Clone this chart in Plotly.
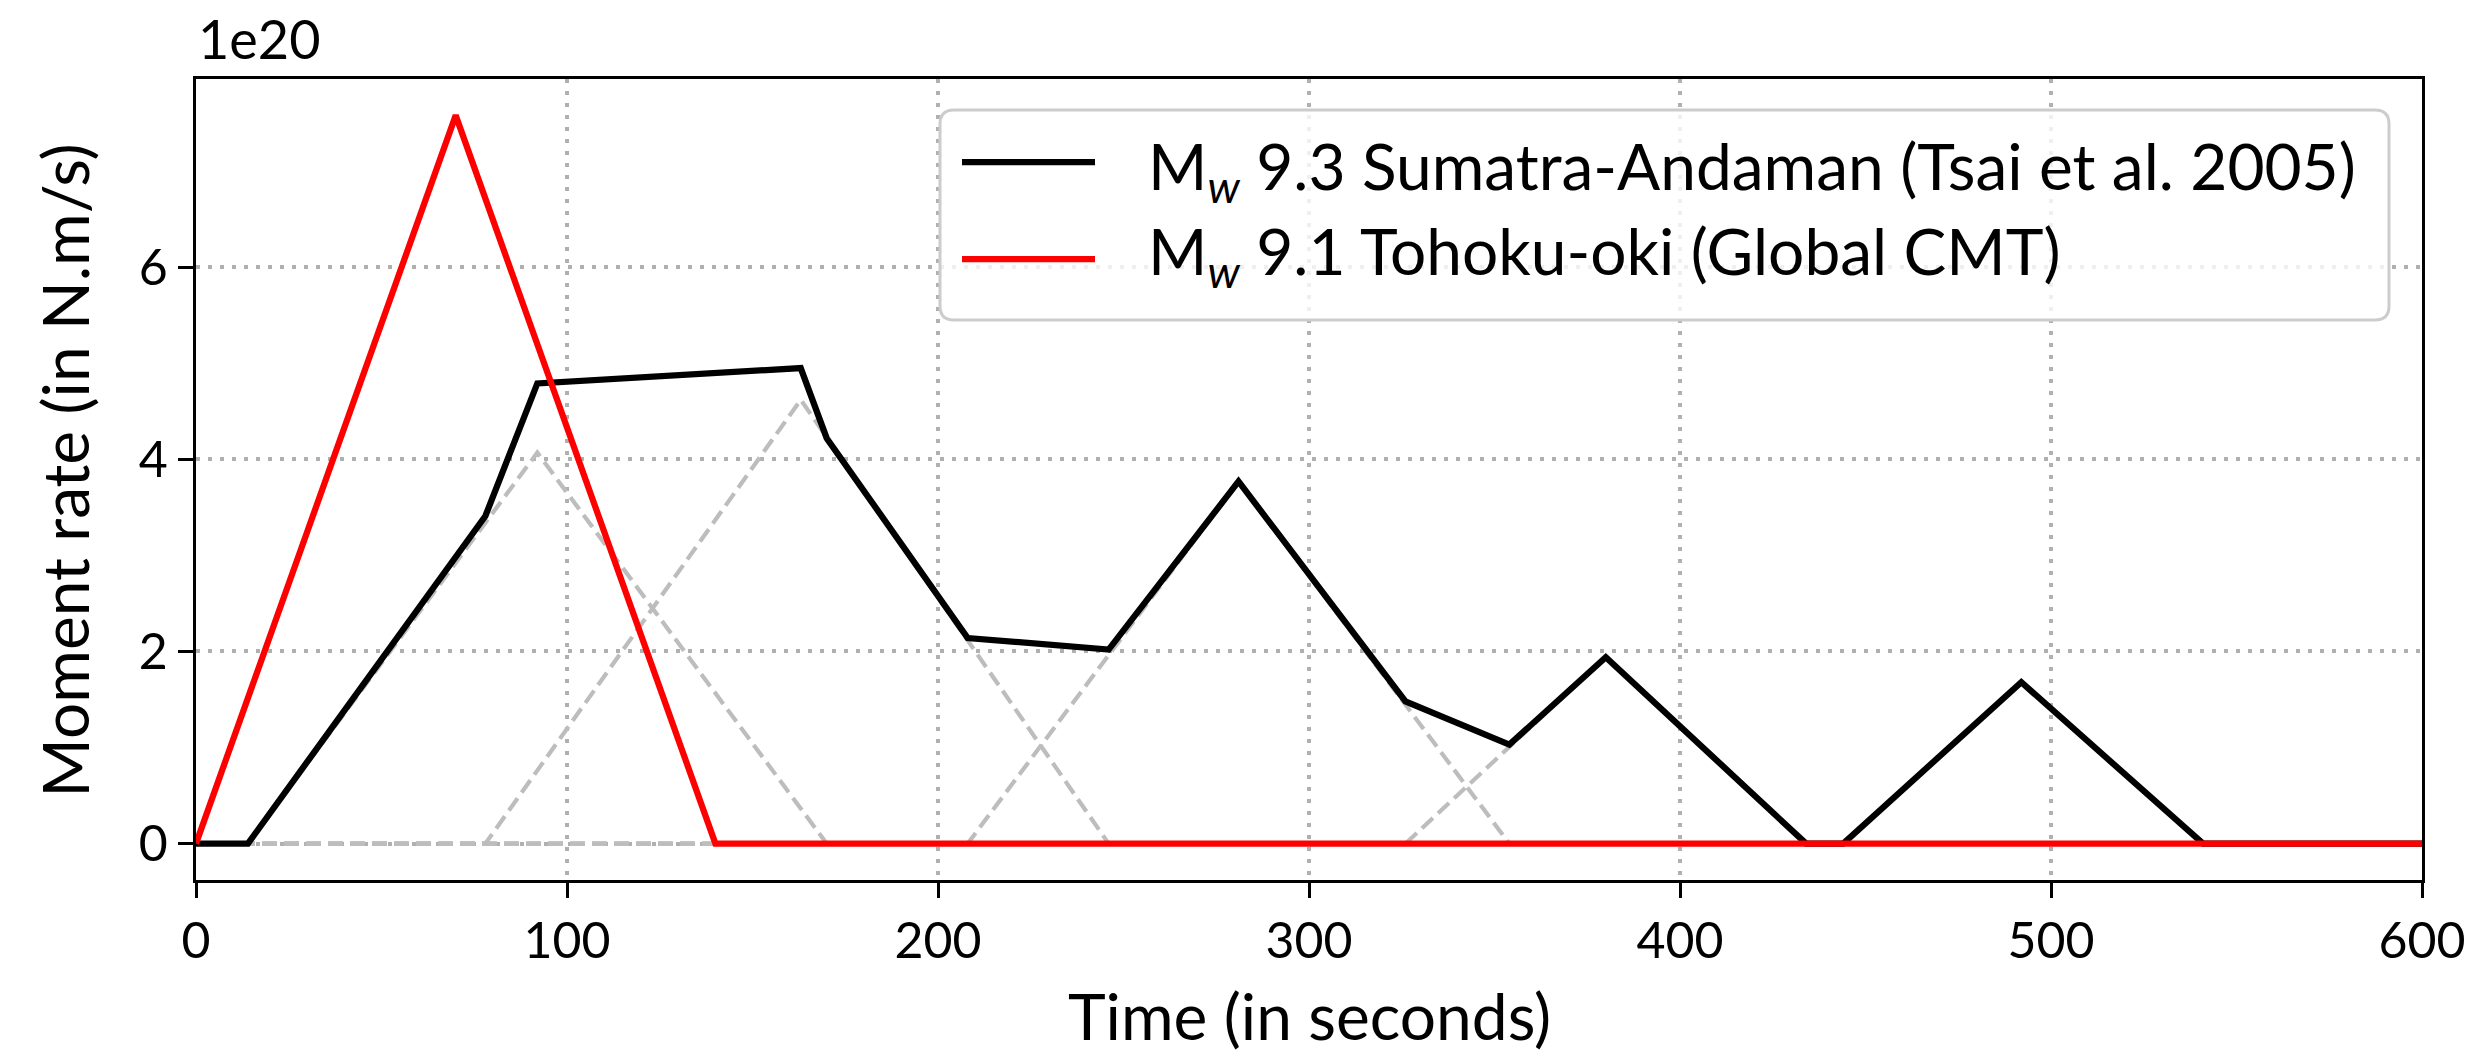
import plotly.graph_objects as go

# ---------------- data (moment rate in units of 1e20 N.m/s) ----------------
t_sumatra = [0, 14, 78, 92, 163, 170, 208, 246, 281, 326, 354, 380, 434, 444, 492, 541, 600]
m_sumatra = [0, 0, 3.41, 4.79, 4.95, 4.22, 2.14, 2.02, 3.77, 1.48, 1.03, 1.94, 0, 0, 1.68, 0, 0]

t_tohoku = [0, 70, 140, 600]
m_tohoku = [0, 7.58, 0, 0]

# individual sub-events of the Sumatra-Andaman source (dashed grey triangles)
sub_start = [14, 78, 208, 326, 444]
sub_peak_t = [92, 163, 281, 380, 492]
sub_peak = [4.07, 4.62, 3.77, 1.94, 1.68]
sub_end = [170, 246, 354, 434, 541]

x_ticks = [0, 100, 200, 300, 400, 500, 600]
y_ticks = [0, 2, 4, 6]

label_sumatra = "M<sub><i>w</i></sub> 9.3 Sumatra-Andaman (Tsai et al. 2005)"
label_tohoku = "M<sub><i>w</i></sub> 9.1 Tohoku-oki (Global CMT)"

# ---------------- figure ----------------
W, H = 2475, 1057
L, R, T, B = 196, 53, 79, 177
pw, ph = W - L - R, H - T - B

FONT = "Lato"
fig = go.Figure()

t0, t1 = x_ticks[0], x_ticks[-1]
for s, pt, pk, e in zip(sub_start, sub_peak_t, sub_peak, sub_end):
    fig.add_trace(go.Scatter(
        x=[t0, s, pt, e, t1], y=[0, 0, pk, 0, 0], mode="lines",
        line=dict(color="#bdbdbd", width=4.2, dash="15px,7px"),
        showlegend=False, hoverinfo="skip"))

fig.add_trace(go.Scatter(x=t_sumatra, y=m_sumatra, mode="lines",
                         line=dict(color="black", width=6.25), showlegend=False))
fig.add_trace(go.Scatter(x=t_tohoku, y=m_tohoku, mode="lines",
                         line=dict(color="#ff0000", width=6.25), showlegend=False))

ymax = max(max(m_sumatra), max(m_tohoku))
pad = 0.05 * ymax
axis_common = dict(ticks="outside", ticklen=15, tickwidth=3.3, tickcolor="black",
                   showline=True, linecolor="black", linewidth=3.3, mirror=True,
                   showgrid=True, gridcolor="#b0b0b0", gridwidth=3.5, griddash="4px,8px",
                   zeroline=False, tickfont=dict(family=FONT, size=50, color="black"))
fig.update_xaxes(range=[t0, t1], tickvals=x_ticks, **axis_common)
fig.update_yaxes(range=[-pad, ymax + pad], tickvals=y_ticks, **axis_common)

def px(xp):
    return (xp - L) / pw

def py(yp):
    return 1 - (yp - T) / ph

# legend (drawn manually, matplotlib style)
lx0, lx1, ly0, ly1 = 940, 2389, 110, 320
r = 14
rx, ry = r / pw, r / ph
X0, X1, Y0, Y1 = px(lx0), px(lx1), py(ly1), py(ly0)
path = (f"M{X0+rx},{Y1} L{X1-rx},{Y1} Q{X1},{Y1} {X1},{Y1-ry} L{X1},{Y0+ry} Q{X1},{Y0} {X1-rx},{Y0} "
        f"L{X0+rx},{Y0} Q{X0},{Y0} {X0},{Y0+ry} L{X0},{Y1-ry} Q{X0},{Y1} {X0+rx},{Y1} Z")
shapes = [dict(type="path", path=path, xref="paper", yref="paper",
               fillcolor="rgba(255,255,255,0.8)", line=dict(color="#cccccc", width=3), layer="above")]
for yy, col in [(162, "black"), (259, "#ff0000")]:
    shapes.append(dict(type="line", xref="paper", yref="paper", x0=px(962), x1=px(1095),
                       y0=py(yy), y1=py(yy), line=dict(color=col, width=6.25), layer="above"))

annotations = [
    dict(text=label_sumatra, x=px(1146), y=py(170), xref="paper", yref="paper", xanchor="left",
         yanchor="middle", showarrow=False, font=dict(family=FONT, size=64, color="black")),
    dict(text=label_tohoku, x=px(1146), y=py(255), xref="paper", yref="paper", xanchor="left",
         yanchor="middle", showarrow=False, font=dict(family=FONT, size=64, color="black")),
    dict(text="1e20", x=0, y=1, xref="paper", yref="paper", xanchor="left", yanchor="bottom",
         yshift=6, showarrow=False, font=dict(family=FONT, size=54, color="black")),
    dict(text="Time (in seconds)", x=0.5, y=py(1055), xref="paper", yref="paper", xanchor="center",
         yanchor="bottom", showarrow=False, borderpad=0, font=dict(family=FONT, size=64, color="black")),
    dict(text="Moment rate (in N.m/s)", x=px(64), y=py(298 * 1.5785), xref="paper", yref="paper",
         xanchor="center", yanchor="middle", textangle=-90, showarrow=False,
         font=dict(family=FONT, size=64, color="black")),
]

fig.update_layout(width=W, height=H, margin=dict(l=L, r=R, t=T, b=B, autoexpand=False),
                  plot_bgcolor="white", paper_bgcolor="white", shapes=shapes,
                  annotations=annotations, showlegend=False)

fig.write_html("out.html")
